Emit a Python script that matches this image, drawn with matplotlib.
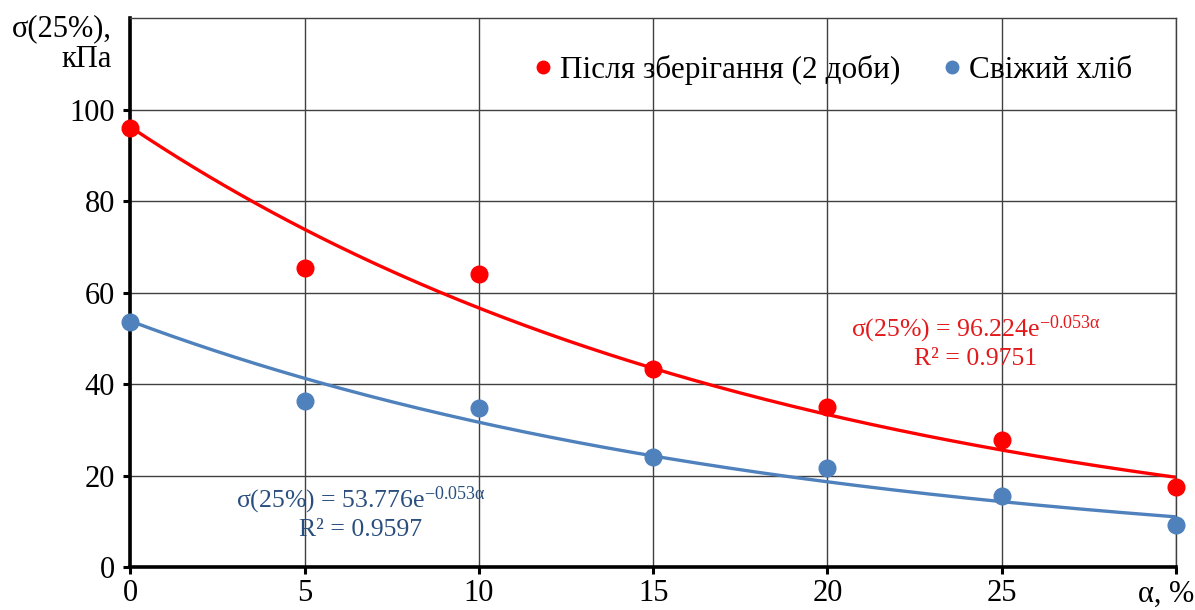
import matplotlib.pyplot as plt
import numpy as np

plt.rcParams['font.family'] = ['Liberation Serif', 'DejaVu Serif']
plt.rcParams['mathtext.fontset'] = 'custom'
plt.rcParams['mathtext.rm'] = 'Liberation Serif'
plt.rcParams['mathtext.it'] = 'Liberation Serif:italic'

# data
alpha = [0, 5, 10, 15, 20, 25, 30]
stored = [96.0, 65.4, 64.0, 43.2, 35.0, 27.7, 17.4]   # після зберігання (2 доби)
fresh = [53.6, 36.4, 34.7, 24.0, 21.7, 15.6, 9.2]     # свіжий хліб

# exponential trend coefficients shown on the chart
fit_stored = (96.224, -0.053)
fit_fresh = (53.776, -0.053)

x_ticks = [0, 5, 10, 15, 20, 25, 30]
x_labels = ['0', '5', '10', '15', '20', '25', '']
y_ticks = [0, 20, 40, 60, 80, 100]

red = '#FF0000'
blue = '#4F81BD'

fig = plt.figure(figsize=(11.95, 6.1), dpi=100)
ax = fig.add_axes([0.1092, 0.0705, 0.8749, 0.8995])

xs = np.linspace(0, 30, 200)
ax.plot(xs, fit_stored[0] * np.exp(fit_stored[1] * xs), color=red, lw=2.4, zorder=3)
ax.plot(xs, fit_fresh[0] * np.exp(fit_fresh[1] * xs), color=blue, lw=2.4, zorder=3)
ax.plot(alpha, stored, 'o', color=red, ms=12, zorder=4, clip_on=False,
        label='Після зберігання (2 доби)')
ax.plot(alpha, fresh, 'o', color=blue, ms=12, zorder=4, clip_on=False,
        label='Свіжий хліб')

ax.set_xlim(0, 30)
ax.set_ylim(0, 120)
ax.set_xticks(x_ticks)
ax.set_xticklabels(x_labels)
ax.set_yticks(y_ticks)
ax.grid(True, color='#404040', lw=1.0, zorder=1)
ax.set_axisbelow(True)

for s in ['left', 'bottom']:
    ax.spines[s].set_linewidth(2.6)
    ax.spines[s].set_color('black')
for s in ['top', 'right']:
    ax.spines[s].set_linewidth(1.0)
    ax.spines[s].set_color('#404040')
ax.tick_params(direction='out', length=5, width=2.2, labelsize=22, pad=6)
ax.tick_params(axis='x', pad=4)

leg = ax.legend(loc='upper right', bbox_to_anchor=(0.985, 0.985), ncol=2, frameon=False,
                fontsize=22.5, handletextpad=0.0, columnspacing=1.1, markerscale=0.75,
                handlelength=1.1)

ax.text(24.25, 49.3, 'σ(25%) = 96.224e$^{\\mathrm{-0.053α}}$\nR² = 0.9751', color='#E3191C',
        fontsize=18.5, ha='center', va='center', linespacing=1.15)
ax.text(6.6, 11.8, 'σ(25%) = 53.776e$^{\\mathrm{-0.053α}}$\nR² = 0.9597', color='#2A4F7E',
        fontsize=18.5, ha='center', va='center', linespacing=1.2)

fig.text(112 / 1195, 1 - 44 / 610, 'σ(25%),\nкПа', fontsize=22, ha='right', va='center',
         linespacing=1.1)
fig.text(0.999, 1 - 594 / 610, 'α, %', fontsize=22, ha='right', va='center')

fig.savefig('out.png', dpi=100)
